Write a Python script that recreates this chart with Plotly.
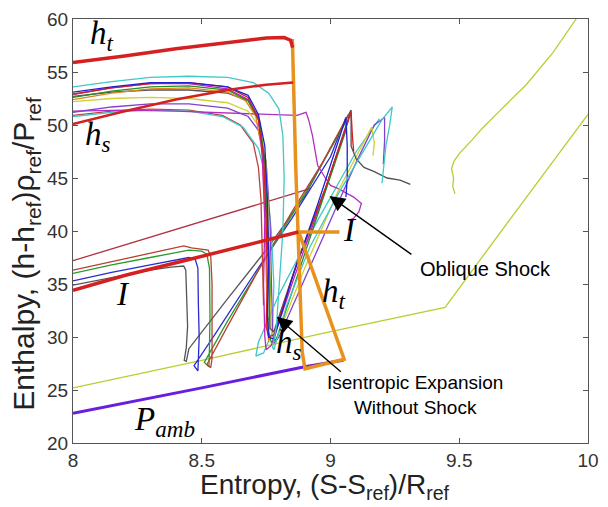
import plotly.graph_objects as go

# ---------------- data ----------------
ht_x = [8.0, 8.2, 8.4, 8.6, 8.75, 8.82, 8.845, 8.853]
ht_y = [55.9, 56.5, 57.2, 57.8, 58.2, 58.25, 58.0, 57.3]

hs_x = [8.0, 8.2, 8.4, 8.6, 8.75, 8.855]
hs_y = [50.1, 51.3, 52.4, 53.3, 53.8, 54.0]

i_x = [8.0, 8.2, 8.4, 8.6, 8.75, 8.875]
i_y = [34.4, 35.8, 37.0, 38.2, 39.1, 39.9]

thinred_x = [8.0, 8.3, 8.6, 8.86, 8.92]
thinred_y = [37.2, 39.4, 41.6, 43.5, 44.0]

orange_x = [8.852, 8.865, 8.89, 8.901, 9.053, 8.877, 9.035]
orange_y = [58.1, 46.0, 28.6, 27.0, 27.9, 39.9, 39.9]

pamb_x = [8.0, 8.5, 8.9, 9.05]
pamb_y = [22.8, 25.2, 27.2, 27.8]

yg1_x = [8.0, 8.5, 9.0, 9.445, 9.7, 10.0]
yg1_y = [25.2, 27.8, 30.5, 32.8, 41.2, 51.0]

yg2_x = [9.483, 9.475, 9.478, 9.47, 9.48, 9.5, 9.55, 9.586, 9.66, 9.76, 9.863, 9.954]
yg2_y = [43.5, 44.2, 45.0, 45.9, 46.6, 47.3, 48.6, 49.6, 51.4, 53.8, 56.8, 60.0]

u_cyan1_x = [8.0, 8.15, 8.3, 8.45, 8.6, 8.7, 8.76, 8.8, 8.815, 8.82, 8.815, 8.8, 8.79, 8.775, 8.78, 8.83, 8.92, 9.03, 9.14, 9.2, 9.24, 9.23, 9.215, 9.205, 9.2]
u_cyan1_y = [53.6, 54.1, 54.5, 54.6, 54.5, 54.0, 53.0, 51.5, 49.0, 45.0, 40.0, 35.0, 31.0, 29.0, 28.8, 33.0, 38.5, 43.5, 48.0, 50.5, 51.7, 50.0, 48.0, 46.0, 44.5]

u_blue_x = [8.0, 8.15, 8.3, 8.45, 8.6, 8.68, 8.72, 8.745, 8.755, 8.76, 8.755, 8.76, 8.78, 8.85, 8.95, 9.06, 9.065, 9.065, 9.06]
u_blue_y = [53.1, 53.6, 54.0, 54.0, 53.6, 52.8, 51.0, 48.0, 43.0, 37.0, 32.0, 30.0, 29.8, 35.5, 42.5, 50.7, 48.0, 45.0, 43.2]

u_red_x = [8.0, 8.15, 8.3, 8.45, 8.6, 8.68, 8.72, 8.74, 8.75, 8.755, 8.75, 8.76, 8.78, 8.87, 8.98, 9.08, 9.085, 9.09]
u_red_y = [52.9, 53.5, 53.9, 54.0, 53.6, 52.6, 50.5, 47.0, 41.0, 35.0, 31.0, 30.0, 30.2, 37.0, 44.0, 51.2, 49.0, 47.5]

u_green_x = [8.0, 8.15, 8.3, 8.45, 8.6, 8.68, 8.725, 8.745, 8.755, 8.765, 8.76, 8.77, 8.79, 8.88, 8.97, 9.06]
u_green_y = [52.6, 53.2, 53.6, 53.7, 53.3, 52.3, 50.3, 46.5, 41.0, 35.0, 30.5, 29.5, 29.8, 36.5, 43.0, 49.5]

u_mag1_x = [8.0, 8.15, 8.3, 8.45, 8.6, 8.68, 8.72, 8.735, 8.745, 8.74, 8.745, 8.75, 8.77, 8.85, 8.96, 9.07]
u_mag1_y = [52.9, 53.5, 53.9, 53.9, 53.4, 52.4, 50.8, 47.0, 41.0, 35.0, 30.0, 28.8, 29.2, 35.0, 42.5, 50.5]

u_orange_x = [8.0, 8.15, 8.3, 8.45, 8.6, 8.67, 8.71, 8.735, 8.745, 8.75, 8.755, 8.76]
u_orange_y = [52.4, 53.0, 53.4, 53.5, 53.1, 52.3, 50.8, 47.5, 42.0, 36.0, 31.0, 29.5]

u_gray_x = [8.0, 8.15, 8.3, 8.45, 8.6, 8.68, 8.72, 8.745, 8.755, 8.76, 8.765, 8.78, 8.87, 8.98, 9.08, 9.08, 9.1, 9.13, 9.17, 9.22, 9.27, 9.31]
u_gray_y = [52.7, 53.1, 53.3, 53.3, 53.0, 52.3, 50.6, 46.5, 40.0, 34.0, 30.8, 30.5, 37.0, 44.0, 51.4, 48.0, 46.8, 46.0, 45.6, 45.0, 44.8, 44.4]

u_yellow_x = [8.0, 8.15, 8.3, 8.45, 8.6, 8.68, 8.725, 8.75, 8.76, 8.765, 8.77, 8.79, 8.9, 9.03, 9.16, 9.17, 9.165]
u_yellow_y = [52.2, 52.5, 52.6, 52.5, 52.1, 51.3, 49.8, 46.5, 41.0, 35.0, 30.5, 29.8, 36.5, 43.8, 49.8, 48.3, 47.1]

u_purple_x = [8.0, 8.15, 8.3, 8.45, 8.6, 8.68, 8.72, 8.75, 8.765, 8.77, 8.775, 8.78, 8.8, 8.9, 9.0, 9.1, 9.17, 9.21, 9.21, 9.205]
u_purple_y = [51.2, 51.7, 52.0, 52.0, 51.6, 50.8, 49.5, 46.5, 41.0, 35.0, 30.5, 29.4, 30.0, 35.5, 41.0, 46.5, 50.0, 50.7, 48.5, 46.3]

u_mag2_x = [8.0, 8.2, 8.4, 8.6, 8.75, 8.8, 8.87, 8.905, 8.915, 8.93, 8.94, 8.95, 8.98, 9.0, 9.03, 9.06, 9.09, 9.12, 9.11, 9.09, 9.07]
u_mag2_y = [51.3, 51.4, 51.3, 51.1, 51.0, 50.9, 50.9, 51.2, 50.5, 49.0, 47.5, 46.2, 45.0, 44.3, 44.0, 43.6, 43.2, 42.6, 41.8, 41.2, 41.0]

u_cyan2_x = [8.0, 8.15, 8.3, 8.45, 8.58, 8.66, 8.72, 8.75, 8.77, 8.78, 8.775, 8.74, 8.71, 8.72, 8.8, 8.95, 9.1, 9.19]
u_cyan2_y = [50.8, 51.2, 51.4, 51.3, 50.8, 49.8, 47.8, 45.0, 40.0, 35.0, 30.5, 28.5, 28.2, 29.5, 34.0, 41.0, 47.5, 50.6]

u_brown_x = [8.0, 8.15, 8.3, 8.45, 8.58, 8.65, 8.7, 8.72, 8.73, 8.735, 8.74]
u_brown_y = [50.9, 51.3, 51.5, 51.4, 50.9, 50.0, 48.3, 46.0, 43.0, 38.0, 33.0]

l_brown_x = [8.0, 8.15, 8.3, 8.4, 8.43, 8.46, 8.5, 8.525, 8.535, 8.54, 8.54, 8.54, 8.535, 8.52, 8.6, 8.72, 8.85, 8.97, 9.07]
l_brown_y = [36.3, 37.1, 37.9, 38.4, 38.6, 38.4, 38.3, 38.2, 37.6, 35.0, 31.0, 28.0, 27.1, 27.4, 31.0, 36.3, 41.8, 46.5, 51.0]

l_green_x = [8.0, 8.15, 8.3, 8.4, 8.45, 8.5, 8.52, 8.53, 8.532, 8.53, 8.528, 8.51, 8.6, 8.75, 8.9, 9.06]
l_green_y = [36.0, 36.8, 37.5, 38.0, 38.2, 38.1, 37.8, 36.5, 32.0, 29.0, 27.2, 27.6, 31.5, 37.5, 43.5, 50.3]

l_blue_x = [8.0, 8.15, 8.3, 8.4, 8.45, 8.475, 8.485, 8.487, 8.49, 8.487, 8.485, 8.47, 8.55, 8.7, 8.85, 9.0, 9.06]
l_blue_y = [35.3, 36.1, 36.8, 37.3, 37.5, 37.3, 36.5, 33.0, 30.0, 28.0, 26.8, 27.3, 30.2, 35.8, 41.2, 47.0, 50.7]

l_gray_x = [8.0, 8.15, 8.3, 8.38, 8.43, 8.438, 8.44, 8.445, 8.44, 8.432, 8.44, 8.45, 8.6, 8.75, 8.9, 9.08]
l_gray_y = [34.9, 35.6, 36.3, 36.6, 36.7, 36.3, 34.0, 31.0, 29.0, 27.8, 27.7, 28.9, 33.6, 38.2, 43.3, 51.4]

x_ticks = [8, 8.5, 9, 9.5, 10]
x_tick_text = ["8", "8.5", "9", "9.5", "10"]
y_ticks = [20, 25, 30, 35, 40, 45, 50, 55, 60]

# ---------------- figure ----------------
fig = go.Figure()

def add_line(x, y, color, width):
    fig.add_trace(go.Scatter(x=x, y=y, mode="lines",
                             line=dict(color=color, width=width),
                             showlegend=False, hoverinfo="skip"))

thin = 1.3
add_line(yg1_x, yg1_y, "#bccc30", thin)
add_line(yg2_x, yg2_y, "#bccc30", thin)
add_line(l_gray_x, l_gray_y, "#555555", thin)
add_line(l_blue_x, l_blue_y, "#2a2ad0", thin)
add_line(l_green_x, l_green_y, "#2a9a2a", thin)
add_line(l_brown_x, l_brown_y, "#b84030", thin)
add_line(thinred_x, thinred_y, "#b03040", thin)
add_line(u_brown_x, u_brown_y, "#c04040", thin)
add_line(u_cyan2_x, u_cyan2_y, "#40c8c8", thin)
add_line(u_mag2_x, u_mag2_y, "#b030c0", thin)
add_line(u_purple_x, u_purple_y, "#8040d0", thin)
add_line(u_yellow_x, u_yellow_y, "#d0d030", thin)
add_line(u_gray_x, u_gray_y, "#505050", thin)
add_line(u_orange_x, u_orange_y, "#e08020", thin)
add_line(u_mag1_x, u_mag1_y, "#c020c0", thin)
add_line(u_green_x, u_green_y, "#209020", thin)
add_line(u_red_x, u_red_y, "#d02020", thin)
add_line(u_blue_x, u_blue_y, "#2020d0", thin)
add_line(u_cyan1_x, u_cyan1_y, "#40c8c8", thin)
add_line(pamb_x, pamb_y, "#6a1de0", 3)
add_line(orange_x, orange_y, "#e8921e", 3.5)
add_line(i_x, i_y, "#d42020", 3.5)
add_line(hs_x, hs_y, "#d42020", 2.5)
add_line(ht_x, ht_y, "#d42020", 3.5)

serif = dict(family="Liberation Serif", size=33, color="black")
labels = [
    (8.114, 58.4, "<i>h<sub>t</sub></i>"),
    (8.099, 48.9, "<i>h<sub>s</sub></i>"),
    (8.194, 34.1, "<i>I</i>"),
    (9.075, 40.1, "<i>I</i>"),
    (9.015, 34.1, "<i>h<sub>t</sub></i>"),
    (8.84, 29.3, "<i>h<sub>s</sub></i>"),
    (8.357, 22.0, "<i>P<sub>amb</sub></i>"),
]
for lx, ly, lt in labels:
    fig.add_annotation(x=lx, y=ly, text=lt, showarrow=False, font=serif)

fig.add_annotation(x=9.60, y=36.4, text="Oblique Shock", showarrow=False,
                   font=dict(family="Liberation Sans", size=20, color="black"))
fig.add_annotation(x=9.33, y=24.5, text="Isentropic Expansion<br>Without Shock",
                   showarrow=False, font=dict(family="Liberation Sans", size=19, color="black"))
fig.add_annotation(x=8.996, y=43.3, ax=9.32, ay=37.7, axref="x", ayref="y",
                   text="", showarrow=True, arrowhead=2, arrowsize=2.2,
                   arrowwidth=1.4, arrowcolor="black")
fig.add_annotation(x=8.791, y=31.9, ax=9.046, ay=26.6, axref="x", ayref="y",
                   text="", showarrow=True, arrowhead=2, arrowsize=2.2,
                   arrowwidth=1.4, arrowcolor="black")

# axis titles
fig.add_annotation(xref="paper", yref="paper", x=0.49, y=-0.102, xanchor="center",
                   yanchor="middle", showarrow=False,
                   text="Entropy, (S-S<sub>ref</sub>)/R<sub>ref</sub>",
                   font=dict(family="Liberation Sans", size=28, color="#222222"))
fig.add_annotation(xref="paper", yref="paper", x=-0.0913, y=0.4465, xanchor="center",
                   yanchor="middle", showarrow=False, textangle=-90,
                   text="Enthalpy, (h-h<sub>ref</sub>)ρ<sub>ref</sub>/P<sub>ref</sub>",
                   font=dict(family="Liberation Sans", size=30, color="#222222"))

axis_common = dict(showgrid=False, zeroline=False, showline=True, linecolor="#555555",
                   linewidth=1, mirror="ticks", ticks="inside", ticklen=5,
                   tickcolor="#555555", ticklabeloverflow="allow",
                   tickfont=dict(family="Liberation Sans", size=19, color="#333333"))

fig.update_xaxes(range=[8, 10], tickvals=x_ticks, ticktext=x_tick_text, **axis_common)
fig.update_yaxes(range=[20, 60], tickvals=y_ticks, **axis_common)

fig.update_layout(width=608, height=507, margin=dict(l=73, r=9, t=13, b=64),
                  plot_bgcolor="white", paper_bgcolor="white")

fig.write_html("out.html", config={"displayModeBar": False},
               post_script="document.body.style.margin='0';document.body.style.overflow='hidden';")
